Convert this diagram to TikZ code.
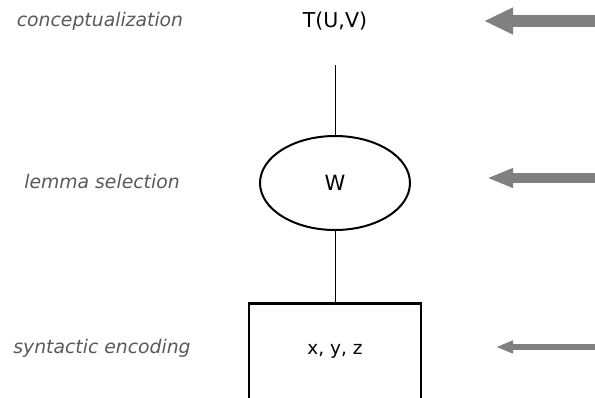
\documentclass[tikz,border=0pt]{standalone}
\usepackage{fontspec}
\setmainfont{DejaVu Sans}
\usepackage{tikz}
\usepackage{xcolor}
\usetikzlibrary{positioning}
\usetikzlibrary{arrows.meta}
\usetikzlibrary{shapes.geometric}
\definecolor{stagegray}{HTML}{595959}
\definecolor{arrowgray}{HTML}{808080}

\begin{document}
\begin{tikzpicture}[x=1pt,y=-1pt,
		stage/.style={text=stagegray,font=\fontsize{18.8}{21}\selectfont\itshape},
		item/.style={font=\fontsize{18.5}{20}\selectfont},
		inflow/.style={draw=arrowgray,line width=#1}]
				\useasboundingbox (0,0) rectangle (595,397);
				\clip (0,0) rectangle (595,397);
				
				\node[stage] (conc) at (100, 21) {conceptualization};
				\node[stage] (lemma) at (102, 181) {lemma selection};
				\node[stage] (synt) at (102, 348) {syntactic encoding};
				
				\node[item,font=\fontsize{20.5}{23}\selectfont] (T) at (335, 21) {T(U,V)};
				\coordinate (Tlow) at (335, 65);
				\node[item,draw,line width=2pt,ellipse,minimum width=150pt,minimum height=94pt,font=\fontsize{21}{23}\selectfont] (W) at (335, 183) {W};
				\node[item,draw,line width=2.6pt,minimum width=172pt,minimum height=130pt,anchor=north] (xyz) at (335, 302) {};
				\node[item] (args) at (335, 351) {x, y, z};
				
				\draw[line width=1pt] (Tlow) to (W.north);
				\draw[line width=1pt] (W.south) to (xyz.north);
				
				\coordinate (inA) at (600, 21);
				\coordinate (tipA) at (484, 21);
				\coordinate (inB) at (600, 178);
				\coordinate (tipB) at (487, 178);
				\coordinate (inC) at (600, 347);
				\coordinate (tipC) at (496, 347);
				\draw[inflow=12pt,-{Triangle[length=29pt,width=25pt,fill=arrowgray,color=arrowgray]}] (inA) to (tipA);
				\draw[inflow=10pt,-{Triangle[length=26pt,width=18pt,fill=arrowgray,color=arrowgray]}] (inB) to (tipB);
				\draw[inflow=6pt,-{Triangle[length=17pt,width=12pt,fill=arrowgray,color=arrowgray]}] (inC) to (tipC);
				
			\end{tikzpicture}
\end{document}
